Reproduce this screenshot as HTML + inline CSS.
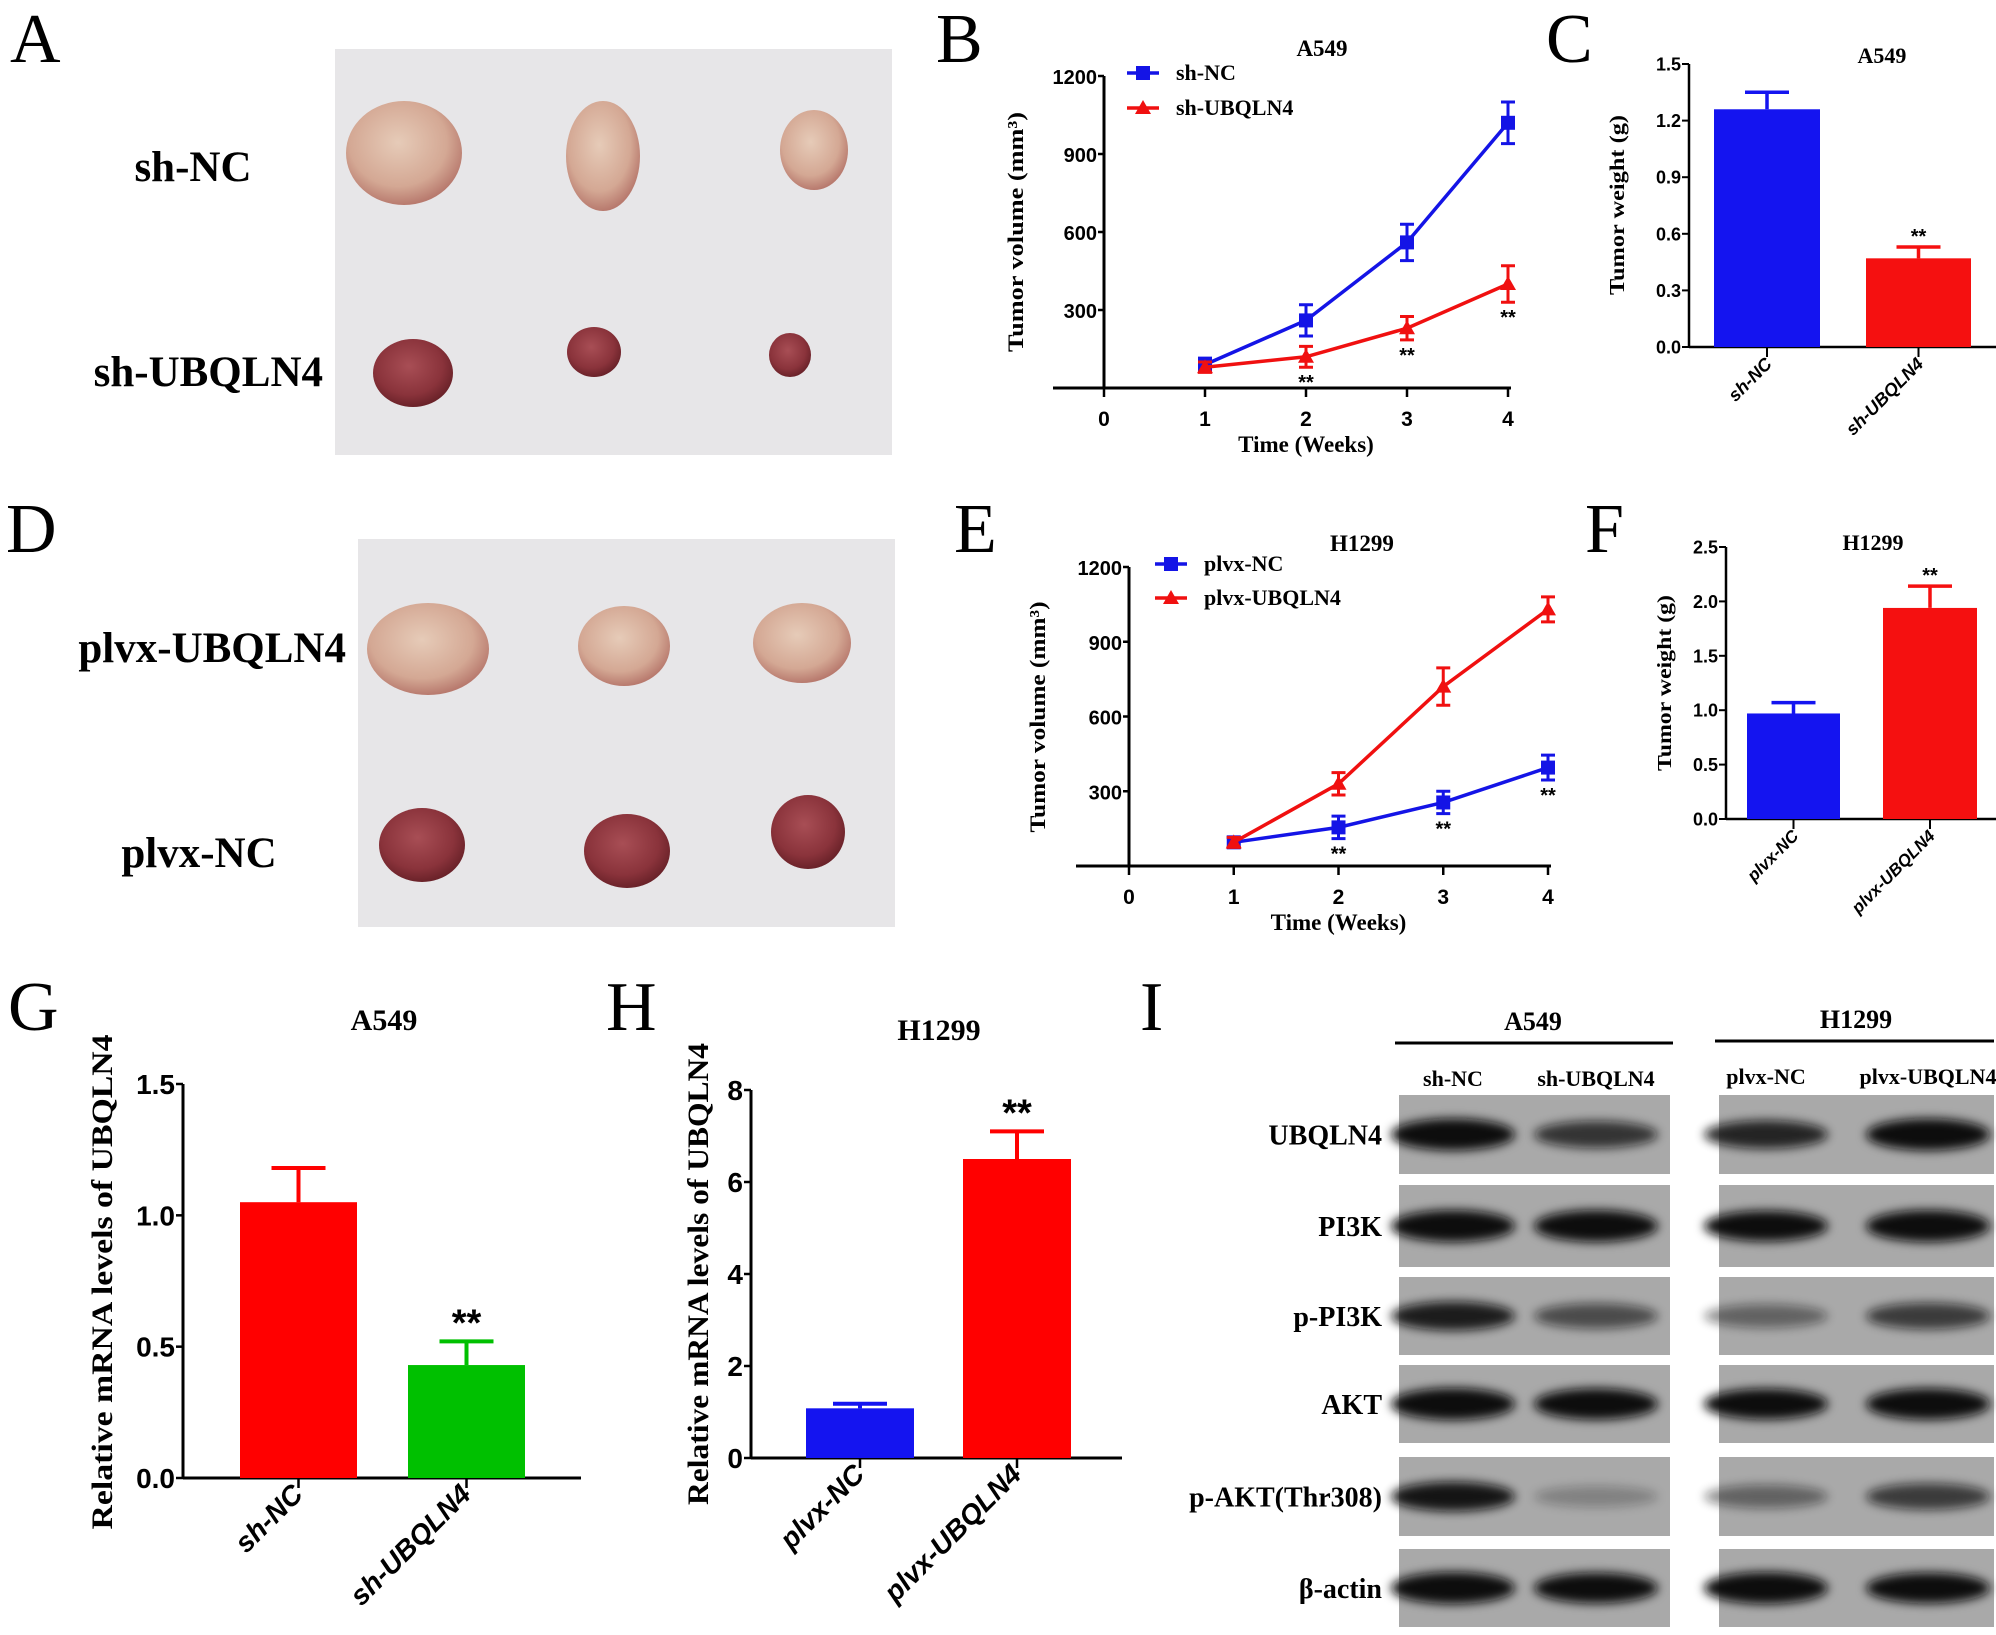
<!DOCTYPE html>
<html><head><meta charset="utf-8"><style>
html,body{margin:0;padding:0;background:#fff}
svg{display:block}
.ser{font-family:"Liberation Serif",serif;font-weight:bold}
.san{font-family:"Liberation Sans",sans-serif;font-weight:bold}
.let{font-family:"Liberation Serif",serif;font-size:70px}
</style></head><body>
<svg id="fig" xmlns="http://www.w3.org/2000/svg" width="1996" height="1635" viewBox="0 0 1996 1635">
<defs>
<filter id="blur" x="-30%" y="-100%" width="160%" height="300%"><feGaussianBlur stdDeviation="5"/></filter>
<filter id="blur2" x="-30%" y="-60%" width="160%" height="220%"><feGaussianBlur stdDeviation="3"/></filter>
<radialGradient id="pale" cx="45%" cy="40%" r="60%"><stop offset="0" stop-color="#e6cbb8"/><stop offset="0.7" stop-color="#d4a894"/><stop offset="1" stop-color="#b87a6e"/></radialGradient>
<radialGradient id="dark" cx="45%" cy="40%" r="60%"><stop offset="0" stop-color="#a84e55"/><stop offset="0.7" stop-color="#8a333b"/><stop offset="1" stop-color="#6a2229"/></radialGradient>
</defs>
<g id="letters">
<text class="let" x="10" y="62">A</text>
<text class="let" x="936" y="62">B</text>
<text class="let" x="1546" y="62">C</text>
<text class="let" x="6" y="552">D</text>
<text class="let" x="954" y="552">E</text>
<text class="let" x="1585" y="552">F</text>
<text class="let" x="8" y="1030">G</text>
<text class="let" x="606" y="1030">H</text>
<text class="let" x="1140" y="1030">I</text>
</g>
<g id="photos">
<rect x="335" y="49" width="557" height="406" fill="#e7e6e8"/>
<rect x="358" y="539" width="537" height="388" fill="#e7e6e8"/>
<text class="ser" x="193" y="181" font-size="43" text-anchor="middle">sh-NC</text>
<text class="ser" x="323" y="386" font-size="43" text-anchor="end">sh-UBQLN4</text>
<text class="ser" x="346" y="662" font-size="43" text-anchor="end">plvx-UBQLN4</text>
<text class="ser" x="199" y="867" font-size="43" text-anchor="middle">plvx-NC</text>
</g>
<g id="chartB"></g>
<g id="chartC"></g>
<g id="chartE"></g>
<g id="chartF"></g>
<g id="chartG"></g>
<g id="chartH"></g>
<g id="blots">
<text class="ser" x="1533" y="1030" font-size="26" text-anchor="middle">A549</text>
<line x1="1395" y1="1043" x2="1673" y2="1043" stroke="#000" stroke-width="3"/>
<text class="ser" x="1856" y="1028" font-size="26" text-anchor="middle">H1299</text>
<line x1="1715" y1="1041" x2="1994" y2="1041" stroke="#000" stroke-width="3"/>
<text class="ser" x="1453" y="1086" font-size="22" text-anchor="middle">sh-NC</text>
<text class="ser" x="1596" y="1086" font-size="22" text-anchor="middle">sh-UBQLN4</text>
<text class="ser" x="1766" y="1084" font-size="22" text-anchor="middle">plvx-NC</text>
<text class="ser" x="1928" y="1084" font-size="22" text-anchor="middle">plvx-UBQLN4</text>
</g>
</svg>
<script>
// ---------- data ----------
const weeks = [1, 2, 3, 4];
const bXTicks = [0, 1, 2, 3, 4];
const bYTicks = [300, 600, 900, 1200];
const bShNC = [90, 260, 560, 1020];
const bShNCErr = [25, 60, 70, 80];
const bShUB = [80, 120, 230, 400];
const bShUBErr = [20, 40, 45, 70];
const eYTicks = [300, 600, 900, 1200];
const ePlvxNC = [95, 155, 255, 395];
const ePlvxNCErr = [20, 45, 45, 50];
const ePlvxUB = [95, 330, 720, 1030];
const ePlvxUBErr = [20, 45, 75, 50];
const cCats = ["sh-NC", "sh-UBQLN4"];
const cVals = [1.26, 0.47];
const cErrs = [0.09, 0.06];
const cTicks = ["0.0", "0.3", "0.6", "0.9", "1.2", "1.5"];
const fCats = ["plvx-NC", "plvx-UBQLN4"];
const fVals = [0.97, 1.94];
const fErrs = [0.1, 0.2];
const fTicks = ["0.0", "0.5", "1.0", "1.5", "2.0", "2.5"];
const gCats = ["sh-NC", "sh-UBQLN4"];
const gVals = [1.05, 0.43];
const gErrs = [0.13, 0.09];
const gTicks = ["0.0", "0.5", "1.0", "1.5"];
const hCats = ["plvx-NC", "plvx-UBQLN4"];
const hVals = [1.08, 6.5];
const hErrs = [0.1, 0.6];
const hTicks = ["0", "2", "4", "6", "8"];
const blotProteins = ["UBQLN4", "PI3K", "p-PI3K", "AKT", "p-AKT(Thr308)", "β-actin"];
const blotA549 = [[1, 0.6], [1, 1], [0.75, 0.45], [1, 0.95], [0.8, 0.1], [1, 0.9]];
const blotH1299 = [[0.7, 1], [0.9, 1], [0.3, 0.55], [0.9, 0.95], [0.3, 0.55], [1, 0.9]];

const NS = "http://www.w3.org/2000/svg";
function mk(parent, tag, attrs, txt) {
  const e = document.createElementNS(NS, tag);
  for (const k in attrs) e.setAttribute(k, attrs[k]);
  if (txt !== undefined) e.textContent = txt;
  parent.appendChild(e);
  return e;
}
function scale(d0, d1, r0, r1) { return v => r0 + (v - d0) * (r1 - r0) / (d1 - d0); }

// ---------- tumor photos ----------
const photos = document.getElementById('photos');
const tumors = [
  [404,153,58,52,'pale'],[603,156,37,55,'pale'],[814,150,34,40,'pale'],
  [413,373,40,34,'dark'],[594,352,27,25,'dark'],[790,355,21,22,'dark'],
  [428,649,61,46,'pale'],[624,646,46,40,'pale'],[802,643,49,40,'pale'],
  [422,845,43,37,'dark'],[627,851,43,37,'dark'],[808,832,37,37,'dark']];
tumors.forEach(t => {
  const el = mk(photos, 'ellipse', {cx:t[0], cy:t[1], rx:t[2], ry:t[3], fill:'url(#'+t[4]+')'});
  
  
});

// ---------- line charts ----------
function lineChart(id, o) {
  const g = document.getElementById(id);
  const xs = scale(0, 4, o.x0, o.x4);
  const ys = scale(0, 1200, o.y0, o.y1200);
  let e = mk(g, 'line', {x1:o.xl, y1:o.y0, x2:o.xr, y2:o.y0, stroke:'#000', 'stroke-width':3});
   
  e = mk(g, 'line', {x1:o.x0, y1:o.y0, x2:o.x0, y2:ys(1200), stroke:'#000', 'stroke-width':3});
   
  bXTicks.forEach(t => {
    mk(g, 'line', {x1:xs(t), y1:o.y0, x2:xs(t), y2:o.y0+9, stroke:'#000', 'stroke-width':2.5});
    e = mk(g, 'text', {x:xs(t), y:o.y0+38, 'text-anchor':'middle', class:'san', 'font-size':21}, String(t));
     
  });
  o.yticks.forEach(t => {
    mk(g, 'line', {x1:o.x0-6, y1:ys(t), x2:o.x0, y2:ys(t), stroke:'#000', 'stroke-width':2.5});
    e = mk(g, 'text', {x:o.x0-7, y:ys(t)+8, 'text-anchor':'end', class:'san', 'font-size':20}, String(t));
     
  });
  e = mk(g, 'text', {x:xs(2), y:o.y0+64, 'text-anchor':'middle', class:'ser', 'font-size':23}, 'Time (Weeks)');
   
  e = mk(g, 'text', {transform:'translate('+o.ytx+','+o.yty+') rotate(-90)', 'text-anchor':'middle', class:'ser', 'font-size':22, textLength:o.ytl, lengthAdjust:'spacingAndGlyphs'}, 'Tumor volume (mm³)');
   
  e = mk(g, 'text', {x:o.tx, y:o.ty, 'text-anchor':'middle', class:'ser', 'font-size':23}, o.title);
   
  o.series.forEach((s, si) => {
    const pts = weeks.map((w, i) => xs(w) + ',' + ys(s.v[i])).join(' ');
    e = mk(g, 'polyline', {points:pts, fill:'none', stroke:s.c, 'stroke-width':3.5});
     
    weeks.forEach((w, i) => {
      const x = xs(w), lo = ys(s.v[i]-s.e[i]), hi = ys(s.v[i]+s.e[i]);
      mk(g, 'path', {d:'M'+x+' '+lo+'V'+hi+'M'+(x-7)+' '+lo+'H'+(x+7)+'M'+(x-7)+' '+hi+'H'+(x+7), stroke:s.c, 'stroke-width':3, fill:'none'});
      if (s.m === 'sq') e = mk(g, 'rect', {x:x-7, y:ys(s.v[i])-7, width:14, height:14, fill:s.c});
      else e = mk(g, 'path', {d:'M'+x+' '+(ys(s.v[i])-8)+'L'+(x+8)+' '+(ys(s.v[i])+6)+'L'+(x-8)+' '+(ys(s.v[i])+6)+'Z', fill:s.c});
       
      if (s.star && i > 0) {
        e = mk(g, 'text', {x:x, y:lo+22, 'text-anchor':'middle', class:'san', 'font-size':20}, '**');
         
      }
    });
    const ly = o.legY[si];
    if (s.m === 'sq') mk(g, 'rect', {x:o.legX-7, y:ly-7, width:14, height:14, fill:s.c});
    else mk(g, 'path', {d:'M'+o.legX+' '+(ly-8)+'L'+(o.legX+8)+' '+(ly+6)+'L'+(o.legX-8)+' '+(ly+6)+'Z', fill:s.c});
    mk(g, 'line', {x1:o.legX-16, y1:ly, x2:o.legX+16, y2:ly, stroke:s.c, 'stroke-width':3.5});
    e = mk(g, 'text', {x:o.legX+33, y:ly+7, class:'ser', 'font-size':22}, s.n);
     
  });
}
lineChart('chartB', {x0:1104, x4:1508, xl:1053, xr:1511, y0:388, y1200:76, yticks:bYTicks,
  ytx:1023, yty:232, ytl:240, tx:1322, ty:56, title:'A549', legX:1143, legY:[73,108],
  series:[{n:'sh-NC', v:bShNC, e:bShNCErr, c:'#1414e6', m:'sq'},
          {n:'sh-UBQLN4', v:bShUB, e:bShUBErr, c:'#f01010', m:'tri', star:true}]});
lineChart('chartE', {x0:1129, x4:1548, xl:1076, xr:1551, y0:866, y1200:567, yticks:eYTicks,
  ytx:1045, yty:717, ytl:231, tx:1362, ty:551, title:'H1299', legX:1171, legY:[564,598],
  series:[{n:'plvx-NC', v:ePlvxNC, e:ePlvxNCErr, c:'#1414e6', m:'sq', star:true},
          {n:'plvx-UBQLN4', v:ePlvxUB, e:ePlvxUBErr, c:'#f01010', m:'tri'}]});

// ---------- bar charts ----------
function barChart(id, o) {
  const g = document.getElementById(id);
  const ys = scale(0, o.max, o.y0, o.ytop);
  let e = mk(g, 'line', {x1:o.ax, y1:o.y0, x2:o.xr, y2:o.y0, stroke:'#000', 'stroke-width':o.sw});
   
  e = mk(g, 'line', {x1:o.ax, y1:o.y0, x2:o.ax, y2:o.ytop, stroke:'#000', 'stroke-width':o.sw});
   
  o.ticks.forEach(t => {
    const y = ys(parseFloat(t));
    mk(g, 'line', {x1:o.ax-7, y1:y, x2:o.ax, y2:y, stroke:'#000', 'stroke-width':o.sw-0.5});
    e = mk(g, 'text', {x:o.ax-8, y:y+o.fs*0.36, 'text-anchor':'end', class:'san', 'font-size':o.fs}, t);
     
  });
  o.vals.forEach((v, i) => {
    const x0 = o.bars[i][0], x1 = o.bars[i][1], cx = (x0+x1)/2;
    e = mk(g, 'rect', {x:x0, y:ys(v), width:x1-x0, height:o.y0-ys(v), fill:o.colors[i]});
     
    const hi = ys(v + o.errs[i]);
    mk(g, 'path', {d:'M'+cx+' '+ys(v)+'V'+hi+'M'+(cx-o.cap)+' '+hi+'H'+(cx+o.cap), stroke:o.colors[i], 'stroke-width':o.sw+1, fill:'none'});
    mk(g, 'line', {x1:cx, y1:o.y0, x2:cx, y2:o.y0+10, stroke:'#000', 'stroke-width':o.sw-0.5});
    e = mk(g, 'text', {transform:'translate('+(cx+6)+','+(o.y0+18)+') rotate(-45)', 'text-anchor':'end', class:'san', 'font-style':'italic', 'font-size':o.cfs}, o.cats[i]);
     
    if (i === o.star) {
      e = mk(g, 'text', {x:cx, y:hi-o.starOff, 'text-anchor':'middle', class:'san', 'font-size':o.sfs}, '**');
       
    }
  });
  e = mk(g, 'text', {transform:'translate('+o.ytx+','+o.yty+') rotate(-90)', 'text-anchor':'middle', class:'ser', 'font-size':o.ytfs, textLength:o.ytl, lengthAdjust:'spacingAndGlyphs'}, o.ytitle);
   
  e = mk(g, 'text', {x:o.tx, y:o.ty, 'text-anchor':'middle', class:'ser', 'font-size':o.tfs}, o.title);
   
}
barChart('chartC', {ax:1689, xr:1996, y0:347, ytop:64, max:1.5, ticks:cTicks, vals:cVals, errs:cErrs, cats:cCats,
  bars:[[1714,1820],[1866,1971]], colors:['#1414f0','#f51010'], sw:2.5, fs:18, cfs:18, cap:22, star:1, sfs:20, starOff:4,
  ytx:1624, yty:205, ytl:180, ytfs:21, ytitle:'Tumor weight (g)', tx:1882, ty:63, tfs:22, title:'A549'});
barChart('chartF', {ax:1726, xr:1996, y0:819, ytop:547, max:2.5, ticks:fTicks, vals:fVals, errs:fErrs, cats:fCats,
  bars:[[1747,1840],[1883,1977]], colors:['#1414f0','#f51010'], sw:2.5, fs:18, cfs:17, cap:22, star:1, sfs:20, starOff:4,
  ytx:1671, yty:683, ytl:176, ytfs:20, ytitle:'Tumor weight (g)', tx:1873, ty:550, tfs:22, title:'H1299'});
barChart('chartG', {ax:183, xr:581, y0:1478, ytop:1084, max:1.5, ticks:gTicks, vals:gVals, errs:gErrs, cats:gCats,
  bars:[[240,357],[408,525]], colors:['#ff0000','#00c000'], sw:3, fs:28, cfs:28, cap:27, star:1, sfs:38, starOff:6,
  ytx:112, yty:1282, ytl:495, ytfs:30, ytitle:'Relative mRNA levels of UBQLN4', tx:384, ty:1030, tfs:30, title:'A549'});
barChart('chartH', {ax:751, xr:1122, y0:1458, ytop:1090, max:8, ticks:hTicks, vals:hVals, errs:hErrs, cats:hCats,
  bars:[[806,914],[963,1071]], colors:['#1414f0','#ff0000'], sw:3, fs:28, cfs:28, cap:27, star:1, sfs:38, starOff:6,
  ytx:708, yty:1274, ytl:462, ytfs:30, ytitle:'Relative mRNA levels of UBQLN4', tx:939, ty:1040, tfs:30, title:'H1299'});

// ---------- western blots ----------
const blots = document.getElementById('blots');
const rowTops = [1095, 1185, 1277, 1365, 1457, 1549];
const rowBots = [1174, 1267, 1355, 1443, 1536, 1627];
const laneA = [1453, 1596], laneH = [1766, 1928];
blotProteins.forEach((p, r) => {
  const cy = (rowTops[r] + rowBots[r]) / 2;
  let e = mk(blots, 'text', {x:1382, y:cy+10, 'text-anchor':'end', class:'ser', 'font-size':28}, p);
   
  [[1399,1670,laneA,blotA549],[1719,1994,laneH,blotH1299]].forEach(pn => {
    e = mk(blots, 'rect', {x:pn[0], y:rowTops[r], width:pn[1]-pn[0], height:rowBots[r]-rowTops[r], fill:'#a9a9a9'});
     
    pn[2].forEach((lx, l) => {
      const v = pn[3][r][l];
      e = mk(blots, 'ellipse', {cx:lx, cy:cy, rx:62, ry:10 + 6*v, fill:'#111', opacity:Math.min(1, 0.15 + v), filter:'url(#blur)'});
       
    });
  });
});
</script>
</body></html>
